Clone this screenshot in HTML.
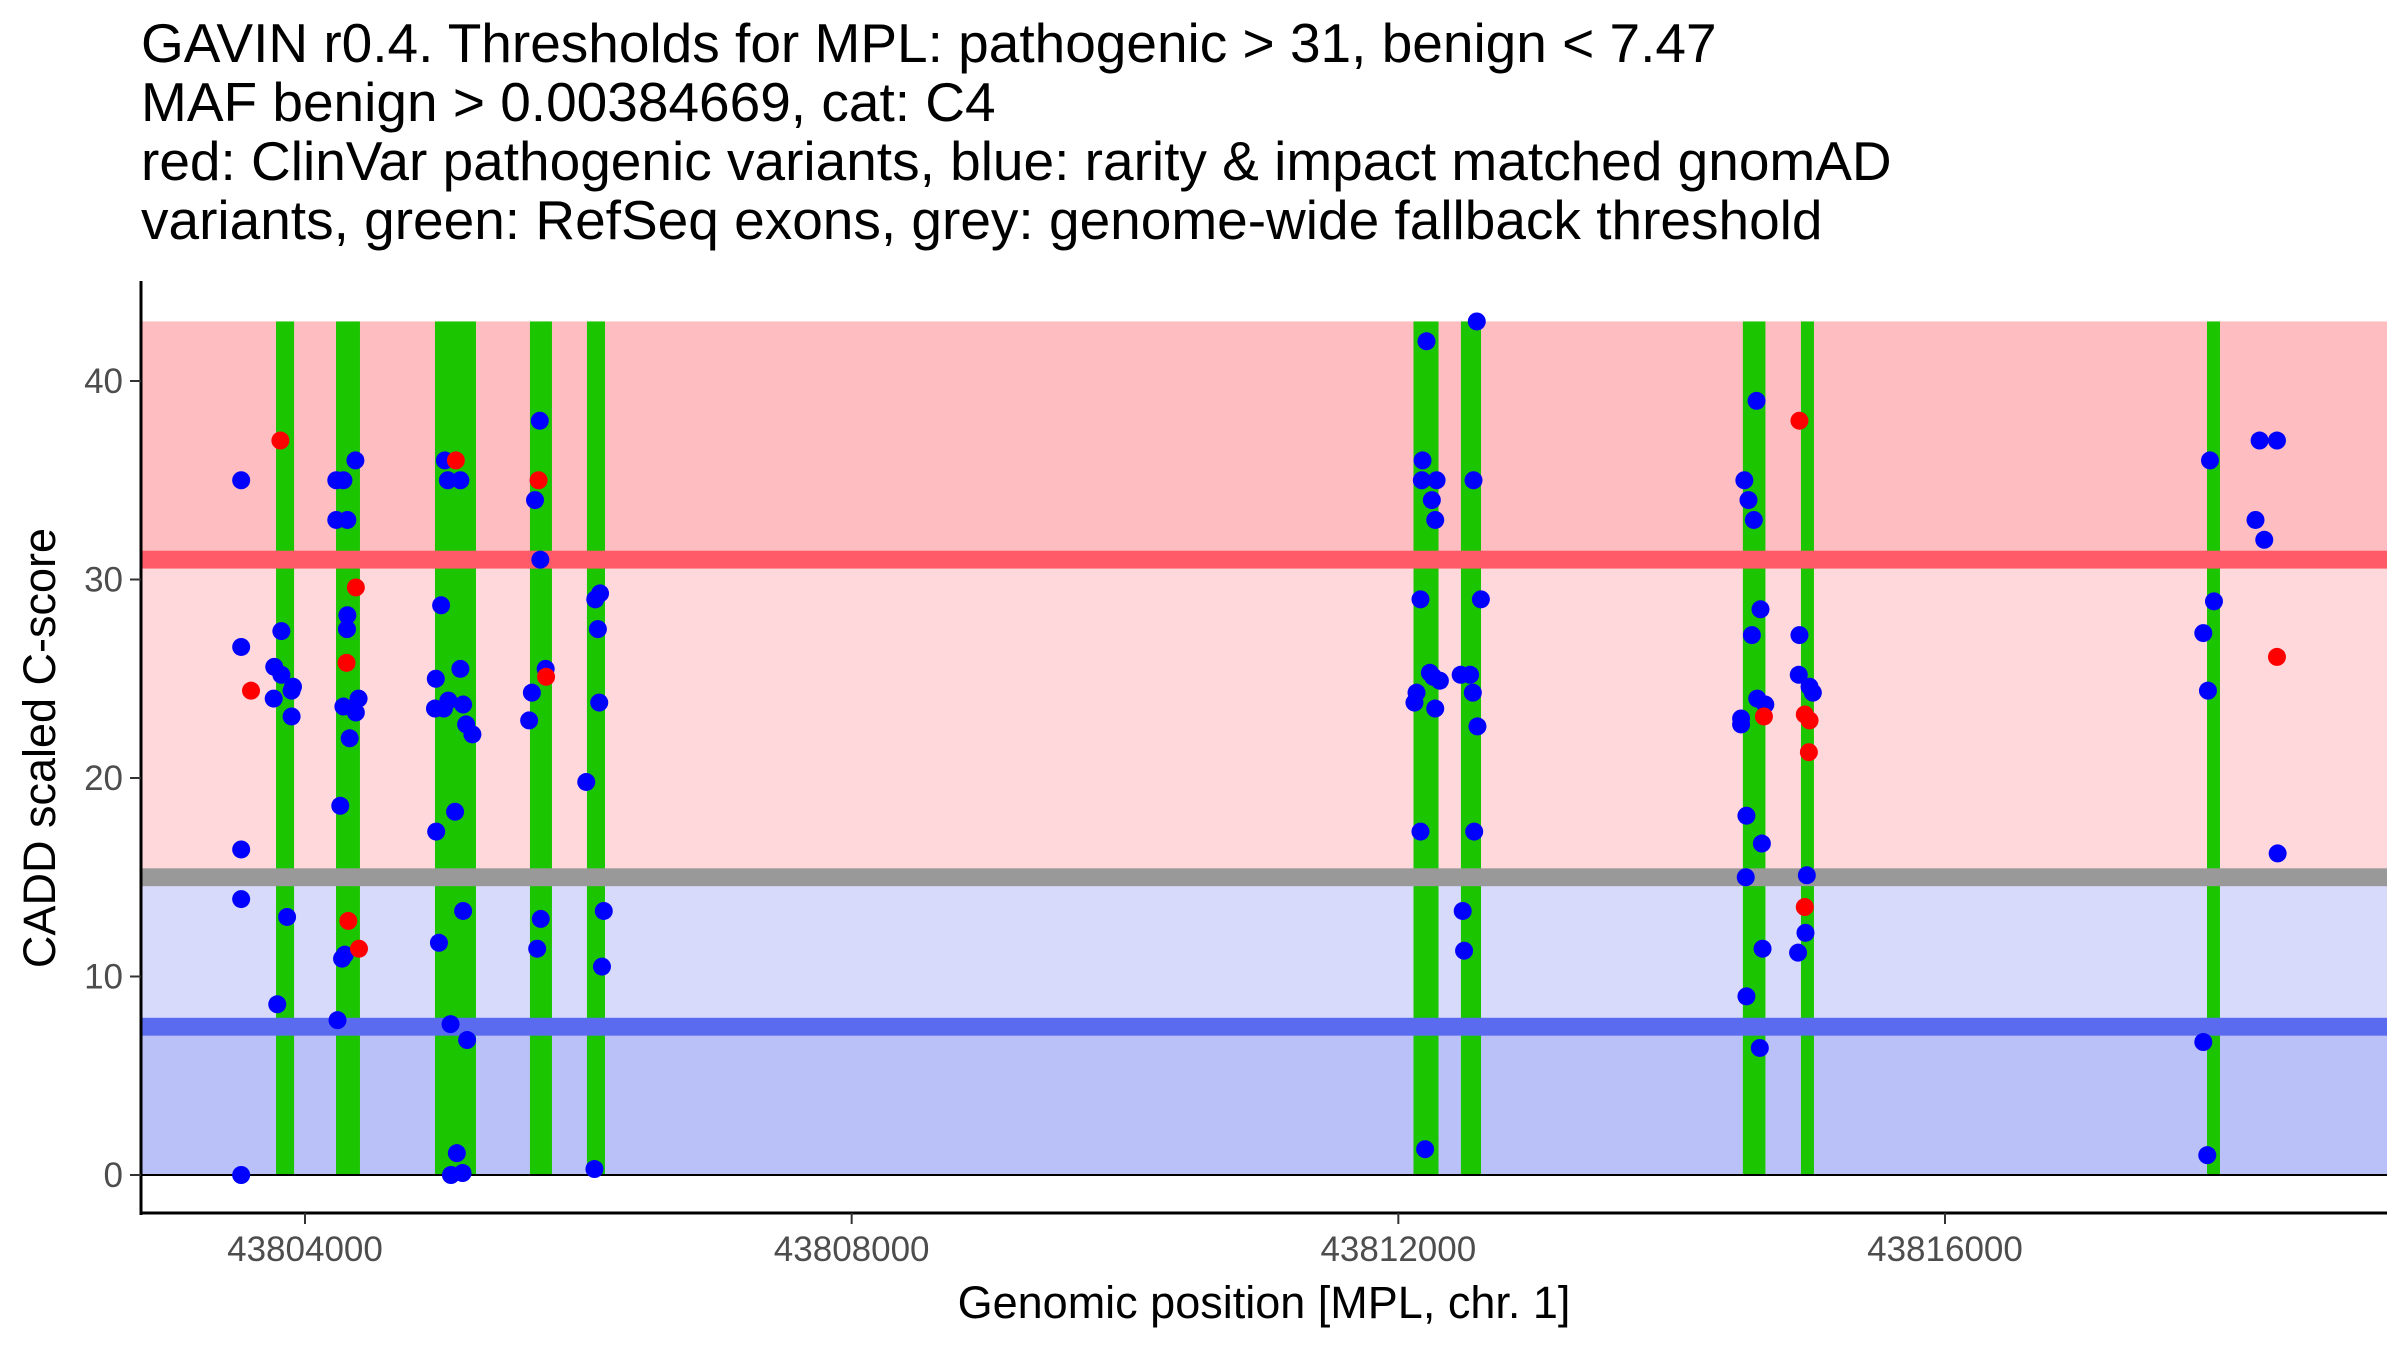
<!DOCTYPE html>
<html><head><meta charset="utf-8">
<style>
html,body{margin:0;padding:0;background:#fff;}
svg{display:block;font-family:"Liberation Sans",Arial,sans-serif;}
</style></head>
<body>
<svg id="chart" width="2400" height="1350" viewBox="0 0 2400 1350" xmlns="http://www.w3.org/2000/svg">
<g font-size="55" fill="#000">
<text x="141" y="62">GAVIN r0.4. Thresholds for MPL: pathogenic &gt; 31, benign &lt; 7.47</text>
<text x="141" y="121">MAF benign &gt; 0.00384669, cat: C4</text>
<text x="141" y="180">red: ClinVar pathogenic variants, blue: rarity &amp; impact matched gnomAD</text>
<text x="141" y="239">variants, green: RefSeq exons, grey: genome-wide fallback threshold</text>
</g>
<g id="bands"></g>
<g id="exons"></g>
<g id="lines"></g>
<g id="pts"></g>
<g id="axes"></g>
<text x="1264" y="1318" font-size="45" text-anchor="middle" fill="#000">Genomic position [MPL, chr. 1]</text>
<text transform="translate(55,748) rotate(-90)" font-size="45" text-anchor="middle" fill="#000">CADD scaled C-score</text>
</svg>
<script>
const exonStarts=[43803788,43804227,43804951,43805646,43806063,43812111,43812458,43814521,43814946,43817917];
const exonEnds=[43803920,43804402,43805251,43805807,43806195,43812294,43812605,43814686,43815041,43818012];
const blueX=[43803533,43803533,43803533,43803533,43803533,43803827,43803775,43803827,43803771,43803912,43803902,43803902,43803869,43803797,
43804229,43804281,43804229,43804310,43804369,43804310,43804307,43804281,43804372,43804392,43804327,43804258,43804271,43804291,43804238,
43805023,43805045,43805137,43804996,43804957,43804951,43805016,43805049,43805157,43805179,43805225,43805137,43805098,43804960,43805157,43804980,43805065,43805186,43805111,43805068,43805153,
43805718,43805683,43805722,43805761,43805660,43805640,43805725,43805699,
43806159,43806124,43806143,43806153,43806058,43806186,43806173,43806118,
43812206,43812177,43812172,43812280,43812245,43812270,43812162,43812231,43812255,43812304,43812133,43812118,43812270,43812162,43812196,
43812574,43812550,43812604,43812456,43812525,43812545,43812579,43812555,43812471,43812481,
43814621,43814532,43814562,43814601,43814650,43814587,43814626,43814685,43814508,43814508,43814547,43814660,43814542,43814665,43814547,43814645,
43814935,43814930,43815009,43815033,43814989,43814979,43814925,
43817939,43817968,43817890,43817924,43817890,43817919,43818302,43818429,43818272,43818336,43818434];
const blueY=[35.0,26.6,16.4,13.9,0.0,27.4,25.6,25.2,24.0,24.6,24.4,23.1,13.0,8.6,
35.0,35.0,33.0,33.0,36.0,28.2,27.5,23.6,23.3,24.0,22.0,18.6,10.9,11.1,7.8,
36.0,35.0,35.0,28.7,25.0,23.5,23.5,23.9,23.7,22.7,22.2,25.5,18.3,17.3,13.3,11.7,7.6,6.8,1.1,0.0,0.1,
38.0,34.0,31.0,25.5,24.3,22.9,12.9,11.4,
29.3,29.0,27.5,23.8,19.8,13.3,10.5,0.3,
42.0,36.0,35.0,35.0,34.0,33.0,29.0,25.3,25.1,24.9,24.3,23.8,23.5,17.3,1.3,
43.0,35.0,29.0,25.2,25.2,24.3,22.6,17.3,13.3,11.3,
39.0,35.0,34.0,33.0,28.5,27.2,24.0,23.7,23.0,22.7,18.1,16.7,15.0,11.4,9.0,6.4,
27.2,25.2,24.6,24.3,15.1,12.2,11.2,
36.0,28.9,27.3,24.4,6.7,1.0,37.0,37.0,33.0,32.0,16.2];
const redX=[43803605,43803820,43804372,43804304,43804317,43804395,43805104,43805709,43805764,43814675,43814935,43814974,43815009,43815004,43814974,43818429];
const redY=[24.4,37.0,29.6,25.8,12.8,11.4,36.0,35.0,25.1,23.1,38.0,23.2,22.9,21.3,13.5,26.1];
const xTicks=[43804000,43808000,43812000,43816000];
const yTicks=[0,10,20,30,40];
const pathThr=31, benignThr=7.47, fallbackThr=15, yTop=43;

const NS='http://www.w3.org/2000/svg';
const L=141,R=2387,T=281,B=1213;
const X=v=>305+(v-43804000)*0.136667;
const Y=v=>1175-v*19.85;
function mk(tag,attrs,parent){const e=document.createElementNS(NS,tag);for(const k in attrs)e.setAttribute(k,attrs[k]);parent.appendChild(e);return e;}
const gB=document.getElementById('bands'),gE=document.getElementById('exons'),gL=document.getElementById('lines'),gP=document.getElementById('pts'),gA=document.getElementById('axes');
const bands=[[pathThr,yTop,'#FDBDC1','pathogenic-region'],[fallbackThr,pathThr,'#FFD8DC','uncertain-high-region'],[benignThr,fallbackThr,'#D8DAFB','uncertain-low-region'],[0,benignThr,'#BAC0F8','benign-region']];
bands.forEach(b=>{const r=mk('rect',{x:L,y:Y(b[1]),width:R-L,height:Y(b[0])-Y(b[1]),fill:b[2]},gB);

});
exonStarts.forEach((s,i)=>{const r=mk('rect',{x:X(s),y:Y(yTop),width:X(exonEnds[i])-X(s),height:Y(0)-Y(yTop),fill:'#1BC500'},gE);

});
[[pathThr,'#FF5A68','pathogenic-threshold-line'],[fallbackThr,'#999999','fallback-threshold-line'],[benignThr,'#5A6BF0','benign-threshold-line']].forEach(t=>{
const r=mk('rect',{x:L,y:Y(t[0]+0.45),width:R-L,height:Y(0)-Y(0.9),fill:t[1]},gL);

});
const z=mk('line',{x1:L,x2:R,y1:Y(0),y2:Y(0),stroke:'#000','stroke-width':2},gL);


blueX.forEach((x,i)=>{const c=mk('circle',{cx:X(x),cy:Y(blueY[i]),r:9,fill:'#0000FF'},gP);

});
redX.forEach((x,i)=>{const c=mk('circle',{cx:X(x),cy:Y(redY[i]),r:9,fill:'#FF0000'},gP);

});
const ya=mk('line',{x1:L,x2:L,y1:T,y2:B+2,stroke:'#000','stroke-width':3},gA);


const xa=mk('line',{x1:L-1.5,x2:R,y1:B,y2:B,stroke:'#000','stroke-width':3},gA);


yTicks.forEach(v=>{const tk=mk('line',{x1:L-11,x2:L,y1:Y(v),y2:Y(v),stroke:'#333','stroke-width':2},gA);


const t=mk('text',{x:L-18,y:Y(v)+12,'text-anchor':'end','font-size':35,fill:'#4D4D4D'},gA);t.textContent=v;

});
xTicks.forEach(v=>{const tk=mk('line',{x1:X(v),x2:X(v),y1:B,y2:B+11,stroke:'#333','stroke-width':2},gA);


const t=mk('text',{x:X(v),y:B+48,'text-anchor':'middle','font-size':35,fill:'#4D4D4D'},gA);t.textContent=v;

});
</script>
</body></html>
